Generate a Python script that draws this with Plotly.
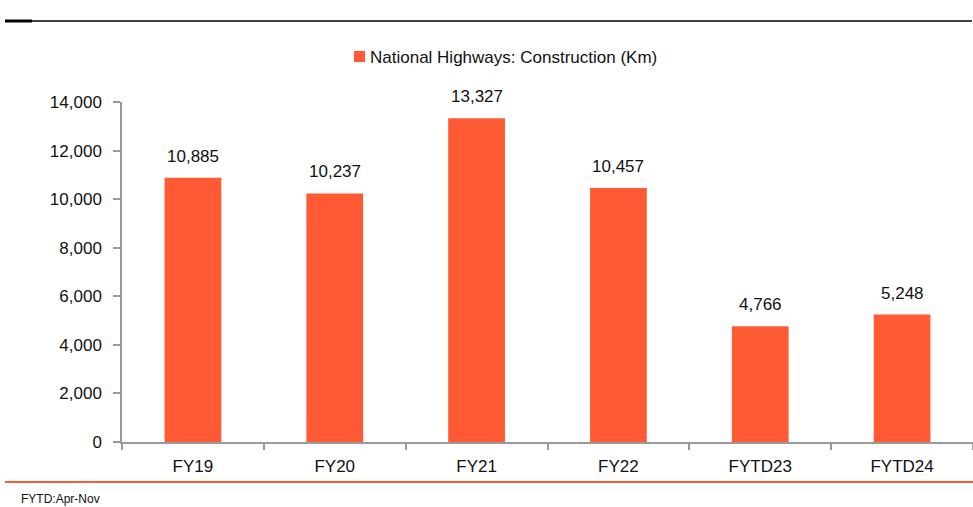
import plotly.graph_objects as go

# Data
categories = ["FY19", "FY20", "FY21", "FY22", "FYTD23", "FYTD24"]
construction_km = [10885, 10237, 13327, 10457, 4766, 5248]
y_tick_values = [0, 2000, 4000, 6000, 8000, 10000, 12000, 14000]
series_name = "National Highways: Construction (Km)"
footnote = "FYTD:Apr-Nov"

W, H = 973, 507
M_L, M_R, M_T, M_B = 122, 0, 102, 65
PLOT_W = W - M_L - M_R
PLOT_H = H - M_T - M_B

BAR_COLOR = "#FF5A33"
AXIS_COLOR = "#9A9A9A"
TEXT_COLOR = "#111111"
FONT = "Liberation Sans, Arial, sans-serif"
FS = 17


def px_x(px):
    return (px - M_L) / PLOT_W


def px_y(py):
    return (H - M_B - py) / PLOT_H


fig = go.Figure()
fig.add_trace(go.Bar(
    x=categories,
    y=construction_km,
    name=series_name,
    marker=dict(color=BAR_COLOR, line=dict(width=0)),
    width=0.4,
    showlegend=False,
))

# Value labels above each bar
for cat, val in zip(categories, construction_km):
    fig.add_annotation(
        x=cat, y=val, text=f"{val:,}", showarrow=False,
        yanchor="bottom", yshift=10,
        font=dict(family=FONT, size=FS, color=TEXT_COLOR),
    )

# Legend: swatch + series name
fig.add_shape(type="rect", xref="paper", yref="paper",
              x0=px_x(354), x1=px_x(365), y0=px_y(51), y1=px_y(62),
              fillcolor=BAR_COLOR, line=dict(width=0))
fig.add_annotation(
    x=px_x(368), y=px_y(57), xref="paper", yref="paper",
    text=series_name, showarrow=False, xanchor="left", yanchor="middle",
    font=dict(family=FONT, size=FS, color=TEXT_COLOR),
)

# Footnote
fig.add_annotation(
    x=px_x(19), y=px_y(499), xref="paper", yref="paper",
    text=footnote, showarrow=False, xanchor="left", yanchor="middle",
    font=dict(family=FONT, size=12, color=TEXT_COLOR),
)

# Header rule (thin line with a short thick lead) and orange footer rule
fig.add_shape(type="line", xref="paper", yref="paper",
              x0=px_x(5), x1=px_x(972), y0=px_y(21), y1=px_y(21),
              line=dict(color="#000000", width=1.5))
fig.add_shape(type="line", xref="paper", yref="paper",
              x0=px_x(5), x1=px_x(32), y0=px_y(21), y1=px_y(21),
              line=dict(color="#000000", width=3))
fig.add_shape(type="line", xref="paper", yref="paper",
              x0=px_x(5), x1=px_x(973), y0=px_y(482), y1=px_y(482),
              line=dict(color=BAR_COLOR, width=2))

fig.update_layout(
    width=W, height=H,
    margin=dict(l=M_L, r=M_R, t=M_T, b=M_B),
    paper_bgcolor="white", plot_bgcolor="white",
    font=dict(family=FONT, size=FS, color=TEXT_COLOR),
    showlegend=False,
    xaxis=dict(
        type="category",
        showgrid=False, showline=True, linecolor=AXIS_COLOR, linewidth=1.5,
        ticks="outside", tickson="boundaries", ticklen=6,
        tickcolor=AXIS_COLOR, tickwidth=1.5,
        tickfont=dict(family=FONT, size=FS, color=TEXT_COLOR),
        ticklabelstandoff=8,
        range=[-0.5, len(categories) - 0.5],
        fixedrange=True,
    ),
    yaxis=dict(
        range=[0, 14000],
        tickvals=y_tick_values,
        ticktext=[f"{v:,}" for v in y_tick_values],
        showgrid=False, zeroline=False,
        showline=True, linecolor=AXIS_COLOR, linewidth=1.5,
        ticks="outside", ticklen=7, tickcolor=AXIS_COLOR, tickwidth=1.5,
        tickfont=dict(family=FONT, size=FS, color=TEXT_COLOR),
        ticklabelstandoff=8,
        fixedrange=True,
    ),
)

fig.write_html("out.html", config={"displayModeBar": False})
